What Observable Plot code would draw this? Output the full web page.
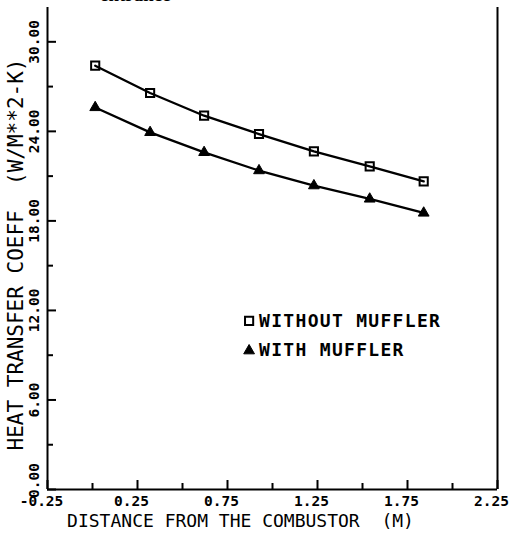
<!DOCTYPE html>
<html>
<head>
<meta charset="utf-8">
<script src="https://cdn.jsdelivr.net/npm/d3@7"></script>
<script src="https://cdn.jsdelivr.net/npm/@observablehq/plot@0.6"></script>
<style>
  html, body { margin: 0; padding: 0; background: #fff; }
  #wrap { position: relative; width: 510px; height: 539px; overflow: hidden; }
  #cap { position: absolute; left: 100px; top: -16px; font: bold 19px "Liberation Serif", serif; color: #000; }
  svg { display: block; }
  .legend-text text { letter-spacing: 1.3px; }
</style>
</head>
<body>
<div id="wrap"><div id="cap">entrance</div><div id="chart"></div></div>
<script>
const distance = [0.015, 0.32, 0.62, 0.925, 1.23, 1.54, 1.84];
const withoutMuffler = [28.4, 26.57, 25.05, 23.82, 22.66, 21.65, 20.65];
const withMuffler = [25.6, 23.93, 22.59, 21.37, 20.36, 19.47, 18.53];
const seriesNames = ["WITHOUT MUFFLER", "WITH MUFFLER"];
const xMajor = [-0.25, 0.25, 0.75, 1.25, 1.75, 2.25];
const xMinor = [0, 0.5, 1.0, 1.5, 2.0];
const yMajor = [0, 6, 12, 18, 24, 30];
const yMinor = [3, 9, 15, 21, 27];
const xTitle = "DISTANCE FROM THE COMBUSTOR  (M)";
const yTitle = "HEAT TRANSFER COEFF  (W/M**2-K)";
const legendX = [0.87, 0.87];
const legendY = [11.3, 9.3];

const W = 510, H = 539, mL = 47, mR = 13, mT = 7, mB = 50;
const plotW = W - mL - mR, plotH = H - mT - mB;
const font = "DejaVu Sans Mono";

const rowsA = distance.map((x, i) => ({x, y: withoutMuffler[i]}));
const rowsB = distance.map((x, i) => ({x, y: withMuffler[i]}));
const legend = seriesNames.map((name, i) => ({name, x: legendX[i], y: legendY[i]}));
const yLab = {text: d => d.toFixed(2), frameAnchor: "left", dx: -13, rotate: -90, fontSize: 14.5, fontWeight: "bold", textAnchor: "middle", lineAnchor: "middle"};

const chart = Plot.plot({
  width: W, height: H,
  marginLeft: mL, marginRight: mR, marginTop: mT, marginBottom: mB,
  style: {fontFamily: font, background: "#fff", color: "#000"},
  x: {domain: [-0.25, 2.25], axis: null},
  y: {domain: [0, 32.3], axis: null},
  marks: [
    Plot.ruleY([0], {stroke: "#000", strokeWidth: 2}),
    Plot.ruleX([-0.25], {stroke: "#000", strokeWidth: 2}),
    Plot.ruleX([2.25], {stroke: "#000", strokeWidth: 2}),
    Plot.tickX(xMajor, {x: d => d, insetTop: plotH - 9, stroke: "#000", strokeWidth: 2}),
    Plot.tickX(xMinor, {x: d => d, insetTop: plotH - 6, stroke: "#000", strokeWidth: 2}),
    Plot.tickY(yMajor, {y: d => d, insetRight: plotW - 9, stroke: "#000", strokeWidth: 2}),
    Plot.tickY(yMinor, {y: d => d, insetRight: plotW - 6, stroke: "#000", strokeWidth: 2}),
    Plot.text(xMajor, {x: d => d, text: d => d.toFixed(2), frameAnchor: "bottom", dy: 12, dx: -6, fontSize: 14.5, fontWeight: "bold", lineAnchor: "middle"}),
    Plot.text(yMajor.slice(1), {y: d => d, ...yLab}),
    Plot.text(yMajor.slice(0, 1), {y: d => d, ...yLab, dy: -9}),
    Plot.text([xTitle], {text: d => d, frameAnchor: "bottom", dy: 32, dx: -32, fontSize: 18, lineAnchor: "middle"}),
    Plot.text([yTitle], {text: d => d, frameAnchor: "left", dx: -31, dy: 6, rotate: -90, fontSize: 21, textAnchor: "middle", lineAnchor: "middle"}),
    Plot.line(rowsA, {x: "x", y: "y", stroke: "#000", strokeWidth: 2.3}),
    Plot.line(rowsB, {x: "x", y: "y", stroke: "#000", strokeWidth: 2.3}),
    Plot.dot(rowsA, {x: "x", y: "y", symbol: "square", r: 4.6, stroke: "#000", strokeWidth: 2, fill: "none"}),
    Plot.dot(rowsB, {x: "x", y: "y", symbol: "triangle", r: 4, fill: "#000", stroke: "#000", strokeWidth: 1}),
    Plot.dot(legend.slice(0, 1), {x: "x", y: "y", symbol: "square", r: 4.6, stroke: "#000", strokeWidth: 2, fill: "none"}),
    Plot.dot(legend.slice(1, 2), {x: "x", y: "y", symbol: "triangle", r: 4, fill: "#000", stroke: "#000", strokeWidth: 1}),
    Plot.text(legend, {x: "x", y: "y", text: "name", textAnchor: "start", dx: 10, fontSize: 18, fontWeight: "bold", lineAnchor: "middle", className: "legend-text"})
  ]
});
document.getElementById("chart").appendChild(chart);
</script>
</body>
</html>
